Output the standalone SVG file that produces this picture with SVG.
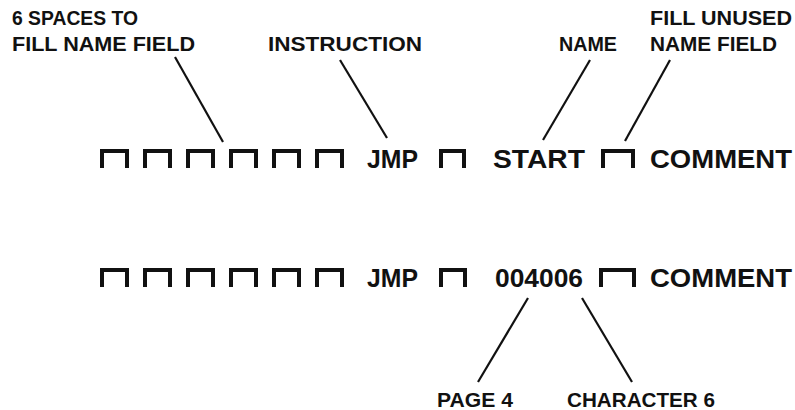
<svg xmlns="http://www.w3.org/2000/svg" width="795" height="410" viewBox="0 0 795 410">
<style>
text{font-family:"Liberation Sans",Arial,sans-serif;font-weight:bold;fill:#111}
.lbl{font-size:20px}
.big{font-size:25px}
.box{fill:none;stroke:#111;stroke-width:4;stroke-linejoin:miter}
.ln{stroke:#111;stroke-width:2.2;fill:none}
</style>
<defs>
<path id="bx" class="box" d="M0,17 V0 H25 V17"/>
</defs>
<rect width="795" height="410" fill="#fff"/>
<g id="labels">
<text class="lbl" x="12" y="25" textLength="126" lengthAdjust="spacingAndGlyphs">6 SPACES TO</text>
<text class="lbl" x="12" y="51" textLength="183" lengthAdjust="spacingAndGlyphs">FILL NAME FIELD</text>
<text class="lbl" x="268" y="51" textLength="154" lengthAdjust="spacingAndGlyphs">INSTRUCTION</text>
<text class="lbl" x="559" y="51" textLength="58" lengthAdjust="spacingAndGlyphs">NAME</text>
<text class="lbl" x="650" y="25" textLength="142" lengthAdjust="spacingAndGlyphs">FILL UNUSED</text>
<text class="lbl" x="650" y="51" textLength="127" lengthAdjust="spacingAndGlyphs">NAME FIELD</text>
<text class="lbl" x="437" y="407" textLength="76" lengthAdjust="spacingAndGlyphs">PAGE 4</text>
<text class="lbl" x="567" y="407" textLength="148" lengthAdjust="spacingAndGlyphs">CHARACTER 6</text>
</g>
<g id="row1">
<use href="#bx" x="102" y="151"/>
<use href="#bx" x="145" y="151"/>
<use href="#bx" x="188" y="151"/>
<use href="#bx" x="231" y="151"/>
<use href="#bx" x="274" y="151"/>
<use href="#bx" x="317" y="151"/>
<text class="big" x="367" y="168" textLength="51" lengthAdjust="spacingAndGlyphs">JMP</text>
<path class="box" d="M441,168 V151 H464 V168"/>
<text class="big" x="493" y="168" textLength="92" lengthAdjust="spacingAndGlyphs">START</text>
<path class="box" d="M603,168 V151 H633 V168"/>
<text class="big" x="650" y="168" textLength="142" lengthAdjust="spacingAndGlyphs">COMMENT</text>
</g>
<g id="row2">
<use href="#bx" x="102" y="270"/>
<use href="#bx" x="145" y="270"/>
<use href="#bx" x="188" y="270"/>
<use href="#bx" x="231" y="270"/>
<use href="#bx" x="274" y="270"/>
<use href="#bx" x="317" y="270"/>
<text class="big" x="367" y="287" textLength="51" lengthAdjust="spacingAndGlyphs">JMP</text>
<path class="box" d="M441,287 V270 H465 V287"/>
<text class="big" x="495" y="287" textLength="88" lengthAdjust="spacingAndGlyphs">004006</text>
<path class="box" d="M601,287 V270 H634 V287"/>
<text class="big" x="650" y="287" textLength="142" lengthAdjust="spacingAndGlyphs">COMMENT</text>
</g>
<g id="connectors">
<line class="ln" x1="175" y1="57" x2="223" y2="142"/>
<line class="ln" x1="340" y1="60" x2="387" y2="138"/>
<line class="ln" x1="590" y1="60" x2="543" y2="140"/>
<line class="ln" x1="670" y1="60" x2="625" y2="141"/>
<line class="ln" x1="528" y1="298" x2="478" y2="382"/>
<line class="ln" x1="582" y1="298" x2="632" y2="382"/>
</g>
</svg>
